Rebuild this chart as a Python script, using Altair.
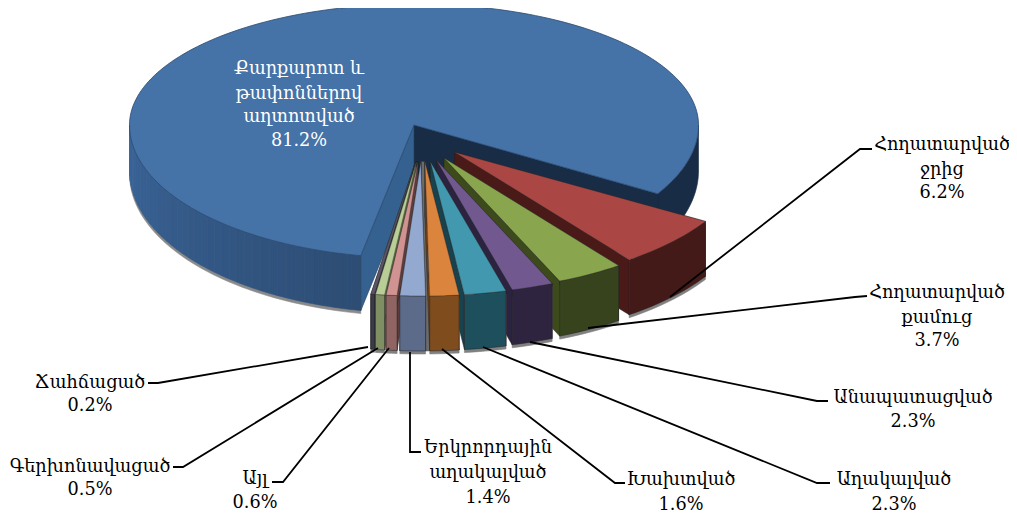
import math
import altair as alt

# --- data
names = [["Քարքարոտ և", "թափոններով", "աղտոտված"], ["Հողատարված", "ջրից"], ["Հողատարված", "քամուց"],
         ["Անապատացված"], ["Աղակալված"], ["Խախտված"], ["Երկրորդային", "աղակալված"],
         ["Այլ"], ["Գերխոնավացած"], ["Ճահճացած"]]
shares = [81.2, 6.2, 3.7, 2.3, 2.3, 1.6, 1.4, 0.6, 0.5, 0.2]
top_colors = ["#4572a7", "#aa4643", "#89a54e", "#71588f", "#4198af", "#db843d", "#93a9cf", "#d19392", "#b9cd96", "#5a5566"]
rim_colors = ["#2d4d74", "#431a18", "#37431c", "#2e2440", "#1d4f5c", "#7f4c1e", "#5d6b8a", "#8f6462", "#7f8f63", "#3a3a4a"]
wall_colors = ["#34618f", "#4a1a18", "#3c4a1c", "#2c2340", "#17424e", "#6e4118", "#4d5a78", "#5c3c3c", "#5a6a40", "#2c2c38"]

# --- layout
W, H = 1001, 506
OX, OY = 8, 8
START = 31.1
DEPTH = 55
BIG = dict(cx=414, cy=125, rx=284.5, ryb=133, ryt=121, gap=2.0)
SMALL = dict(x0=422, xa=44, y0=132, ya=30, rx=293, ry=134)
label_centers = [(299, [69, 94, 117, 141]), (942, [145, 170, 193]), (937, [293, 318, 341]),
                 (913, [398, 422]), (894, [480, 505]), (681, [480, 505]), (488, [448, 473, 498]),
                 (255, [479, 503]), (90, [467, 490]), (90, [383, 406])]
leaders = [None,
           [(670, 297), (860, 149), (872, 149)],
           [(588, 328), (855, 297), (867, 296)],
           [(530, 342), (817, 401), (828, 401)],
           [(483, 347), (817, 483), (830, 483)],
           [(442, 349), (615, 483), (625, 483)],
           [(410, 352), (410, 452), (421, 452)],
           [(389, 348), (283, 482), (272, 482)],
           [(378, 348), (183, 467), (173, 467)],
           [(368, 347), (158, 383), (148, 383)]]

features = []


def add(points, fill, stroke=None, sw=0.6):
    ring = [[round(x, 2), round(y, 2)] for x, y in points]
    ring.append(ring[0])
    features.append({"type": "Feature", "geometry": {"type": "Polygon", "coordinates": [ring]},
                     "properties": {"f": fill, "s": stroke or fill, "w": sw}})


def arc(a0, a1, fn, n=None):
    n = n or max(2, int(abs(a1 - a0) / 1.5) + 1)
    return [fn(a0 + (a1 - a0) * i / n) for i in range(n + 1)]


def down(pts, d):
    return [(x, y + d) for x, y in pts]


def mix(c1, c2, t):
    a = [int(c1[i:i + 2], 16) for i in (1, 3, 5)]
    b = [int(c2[i:i + 2], 16) for i in (1, 3, 5)]
    return "#" + "".join(f"{round(p + (q - p) * t):02x}" for p, q in zip(a, b))


# big slice
def big(a):
    r = math.radians(a)
    s = math.sin(r)
    return (BIG["cx"] + BIG["rx"] * math.cos(r),
            BIG["cy"] + (BIG["ryb"] if s > 0 else BIG["ryt"]) * s)


def big_depth(a):
    # the far side of the rim looks shallower than the near side
    return 46 + (DEPTH - 46) * max(0.0, math.sin(math.radians(a)))


def extrude(angles, extra=0):
    return [(big(a)[0], big(a)[1] + big_depth(a) + extra) for a in angles]


apex = (BIG["cx"], BIG["cy"])
small_total = sum(shares[1:]) * 3.6
big_left = START + small_total + BIG["gap"]


def spaced(a0, a1, n=60):
    return [a0 + (a1 - a0) * i / n for i in range(n + 1)]


left_angles = spaced(big_left, 180)
right_angles = spaced(0, START + 3, 24)
add([big(a) for a in left_angles] + extrude(left_angles[::-1], 3), "#8a8a8a")
add([big(a) for a in right_angles] + extrude(right_angles[::-1]), "#182c45")
cut = big(START)
add([apex, cut, (cut[0], cut[1] + DEPTH), (apex[0], apex[1] + DEPTH)], "#182c45")
steps = 40
for i in range(steps):
    a0 = big_left + (180 - big_left) * i / steps
    a1 = big_left + (180 - big_left) * (i + 1) / steps
    seg = [a0, (a0 + a1) / 2, a1]
    add([big(a) for a in seg] + extrude(seg[::-1]), mix(rim_colors[0], "#3a659a", i / (steps - 1)))
corner = big(big_left)
add([apex, corner, (corner[0], corner[1] + DEPTH), (apex[0], apex[1] + DEPTH)], wall_colors[0], "#24415f")
add([apex] + arc(START + 360, big_left, big), top_colors[0], "#2a4a70", 0.8)

bounds = [START]
for s in shares[1:]:
    bounds.append(bounds[-1] + s * 3.6)


def slice_apex(k):
    mid = math.radians((bounds[k - 1] + bounds[k]) / 2)
    return (SMALL["x0"] + SMALL["xa"] * math.cos(mid), SMALL["y0"] + SMALL["ya"] * math.sin(mid))


def draw_slice(k):
    a0, a1 = bounds[k - 1], bounds[k]
    ax, ay = slice_apex(k)

    def rim(a):
        r = math.radians(a)
        return (ax + SMALL["rx"] * math.cos(r), ay + SMALL["ry"] * math.sin(r))

    outer = arc(a0, a1, rim)
    p, q = outer[0], outer[-1]
    A = (ax, ay)
    add(down(outer, 3) + down(outer[::-1], DEPTH + 3), "#808080")
    add([A, p, down([p], DEPTH)[0], (ax, ay + DEPTH)], wall_colors[k], "#222222", 0.5)
    add([A, q, down([q], DEPTH)[0], (ax, ay + DEPTH)], wall_colors[k], "#222222", 0.5)
    add(outer + down(outer[::-1], DEPTH), rim_colors[k], "#222222", 0.5)
    add([A] + outer, top_colors[k], "#333333", 0.4)


# grey gap seen between the two slices nearest the viewer
for k in [1, 2, 3, 4, 9, 8, 7]:
    draw_slice(k)
a5, a6 = slice_apex(5), slice_apex(6)
gap_r = math.radians(bounds[5])
gap_x, gap_y = SMALL["rx"] * math.cos(gap_r), SMALL["ry"] * math.sin(gap_r) + DEPTH
add([a6, a5, (a5[0] + gap_x, a5[1] + gap_y), (a6[0] + gap_x, a6[1] + gap_y)], "#6b6b6b")
for k in [6, 5]:
    draw_slice(k)

x_scale = alt.Scale(domain=[OX, OX + W], range=[0, W], nice=False, zero=False)
y_scale = alt.Scale(domain=[OY, OY + H], range=[0, H], nice=False, zero=False)

pie = (alt.Chart(alt.InlineData(values=features))
       .mark_geoshape(strokeJoin="round")
       .encode(fill=alt.Fill("properties.f:N", scale=None),
               stroke=alt.Stroke("properties.s:N", scale=None),
               strokeWidth=alt.StrokeWidth("properties.w:Q", scale=None))
       .project(type="identity", scale=1, translate=[-OX, -OY]))

line_rows = []
for k, pts in enumerate(leaders):
    if pts:
        for i, (x, y) in enumerate(pts):
            line_rows.append({"k": k, "i": i, "x": x, "y": y})
lines = (alt.Chart(alt.Data(values=line_rows)).mark_line(color="#000000", strokeWidth=1.8, interpolate="linear")
         .encode(x=alt.X("x:Q", scale=x_scale, axis=None), y=alt.Y("y:Q", scale=y_scale, axis=None),
                 detail="k:N", order="i:Q"))

text_rows = []
for k, (cx, ys) in enumerate(label_centers):
    rows = names[k] + [f"{shares[k]:.1f}%"]
    for t, y in zip(rows, ys):
        text_rows.append({"t": t, "x": cx, "y": y, "c": "#ffffff" if k == 0 else "#000000"})
texts = (alt.Chart(alt.Data(values=text_rows))
         .mark_text(font="DejaVu Serif", fontSize=17.7, align="center", baseline="middle")
         .encode(x=alt.X("x:Q", scale=x_scale, axis=None), y=alt.Y("y:Q", scale=y_scale, axis=None),
                 text="t:N", color=alt.Color("c:N", scale=None)))

chart = (alt.layer(pie, lines, texts)
         .properties(width=W, height=H, padding=0, background="#ffffff",
                     autosize=alt.AutoSizeParams(type="none"))
         .configure_view(stroke=None))
chart.save("out.html", embed_options={"renderer": "svg", "actions": False})
